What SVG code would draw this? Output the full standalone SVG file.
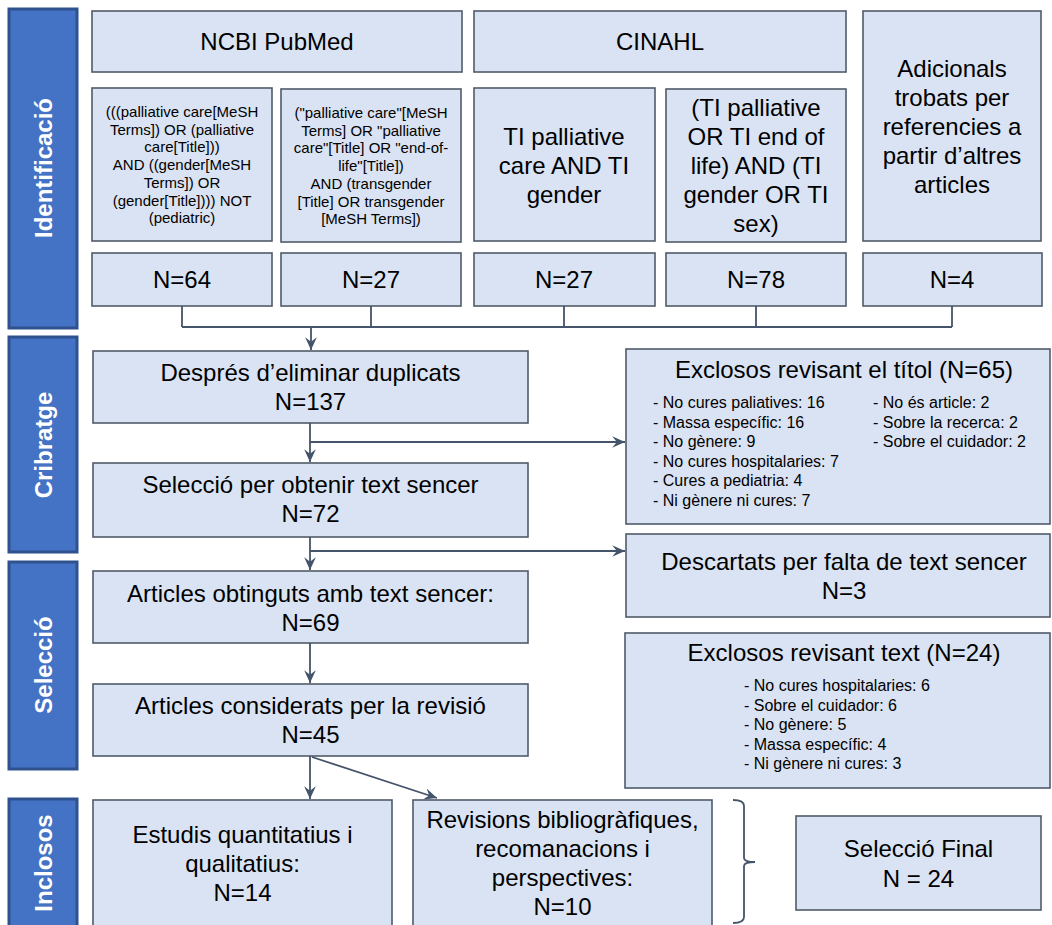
<svg xmlns="http://www.w3.org/2000/svg" width="1052" height="925" viewBox="0 0 1052 925">
<style>
.bar{fill:#4472C4;stroke:#2F528F;stroke-width:3}
.bt{fill:#FFFFFF;font-family:"Liberation Sans",Arial,sans-serif;font-weight:bold;font-size:24px;text-anchor:middle}
.box{fill:#DAE3F3;stroke:#505A69;stroke-width:1.6}
.t{fill:#000;font-family:"Liberation Sans",Arial,sans-serif;font-size:24px;text-anchor:middle}
.q{fill:#000;font-family:"Liberation Sans",Arial,sans-serif;font-size:15px;text-anchor:middle}
.li{fill:#000;font-family:"Liberation Sans",Arial,sans-serif;font-size:16px}
.c{fill:none;stroke:#44546A;stroke-width:1.8}
</style>
<defs>
<marker id="ah" markerUnits="userSpaceOnUse" markerWidth="14" markerHeight="14" viewBox="0 0 12 12" refX="11" refY="6" orient="auto">
<path d="M0,1 L11,6 L0,11 L4,6 Z" fill="#44546A"/>
</marker>
</defs>
<rect width="1052" height="925" fill="#FFFFFF"/>

<g id="stage-identificacio"><rect class="bar" x="9" y="9" width="68" height="319"/><text class="bt" transform="translate(52,168) rotate(-90)">Identificació</text></g>
<g id="stage-cribratge"><rect class="bar" x="9" y="337" width="68" height="215"/><text class="bt" transform="translate(52,445) rotate(-90)">Cribratge</text></g>
<g id="stage-seleccio"><rect class="bar" x="9" y="562" width="68" height="207"/><text class="bt" transform="translate(52,665) rotate(-90)">Selecció</text></g>
<g id="stage-inclosos"><rect class="bar" x="9" y="799" width="68" height="140"/><text class="bt" transform="translate(52,863) rotate(-90)">Inclosos</text></g>

<g id="pubmed"><rect class="box" x="92" y="11" width="370" height="61"/><text class="t" x="277" y="50">NCBI PubMed</text></g>
<g id="cinahl"><rect class="box" x="474" y="11" width="372" height="61"/><text class="t" x="660" y="50">CINAHL</text></g>
<g id="adicionals"><rect class="box" x="863" y="11" width="178" height="230"/>
<text class="t" x="952" y="77">Adicionals</text><text class="t" x="952" y="106">trobats per</text><text class="t" x="952" y="135">referencies a</text><text class="t" x="952" y="164">partir d’altres</text><text class="t" x="952" y="193">articles</text></g>

<g id="query-pubmed-1"><rect class="box" x="92" y="88" width="180" height="153"/>
<text class="q" x="182" y="117">(((palliative care[MeSH</text>
<text class="q" x="182" y="134.7">Terms]) OR (palliative</text>
<text class="q" x="182" y="152.4">care[Title]))</text>
<text class="q" x="182" y="170.1">AND ((gender[MeSH</text>
<text class="q" x="182" y="187.8">Terms]) OR</text>
<text class="q" x="182" y="205.5">(gender[Title]))) NOT</text>
<text class="q" x="182" y="223.2">(pediatric)</text></g>
<g id="query-pubmed-2"><rect class="box" x="281" y="89" width="180" height="153"/>
<text class="q" x="371" y="118">("palliative care"[MeSH</text>
<text class="q" x="371" y="135.7">Terms] OR "palliative</text>
<text class="q" x="371" y="153.4">care"[Title] OR "end-of-</text>
<text class="q" x="371" y="171.1">life"[Title])</text>
<text class="q" x="371" y="188.8">AND (transgender</text>
<text class="q" x="371" y="206.5">[Title] OR transgender</text>
<text class="q" x="371" y="224.2">[MeSH Terms])</text></g>
<g id="query-cinahl-1"><rect class="box" x="474" y="88" width="181" height="153"/>
<text class="t" x="564" y="145">TI palliative</text><text class="t" x="564" y="174">care AND TI</text><text class="t" x="564" y="203">gender</text></g>
<g id="query-cinahl-2"><rect class="box" x="666" y="89" width="180" height="153"/>
<text class="t" x="756" y="116">(TI palliative</text><text class="t" x="756" y="145">OR TI end of</text><text class="t" x="756" y="174">life) AND (TI</text><text class="t" x="756" y="203">gender OR TI</text><text class="t" x="756" y="232">sex)</text></g>

<g id="n-64"><rect class="box" x="92" y="253" width="180" height="53"/><text class="t" x="182" y="288">N=64</text></g>
<g id="n-27a"><rect class="box" x="281" y="253" width="180" height="53"/><text class="t" x="371" y="288">N=27</text></g>
<g id="n-27b"><rect class="box" x="474" y="253" width="181" height="53"/><text class="t" x="564" y="288">N=27</text></g>
<g id="n-78"><rect class="box" x="666" y="253" width="180" height="53"/><text class="t" x="756" y="288">N=78</text></g>
<g id="n-4"><rect class="box" x="863" y="253" width="179" height="53"/><text class="t" x="952" y="288">N=4</text></g>

<g id="duplicats"><rect class="box" x="93" y="351" width="435" height="72"/><text class="t" x="310.5" y="381">Després d’eliminar duplicats</text><text class="t" x="310.5" y="410">N=137</text></g>
<g id="seleccio-text"><rect class="box" x="93" y="463" width="435" height="74"/><text class="t" x="310.5" y="493">Selecció per obtenir text sencer</text><text class="t" x="310.5" y="522">N=72</text></g>
<g id="obtinguts"><rect class="box" x="93" y="571" width="435" height="72"/><text class="t" x="310.5" y="602">Articles obtinguts amb text sencer:</text><text class="t" x="310.5" y="631">N=69</text></g>
<g id="considerats"><rect class="box" x="93" y="684" width="435" height="72"/><text class="t" x="310.5" y="714">Articles considerats per la revisió</text><text class="t" x="310.5" y="743">N=45</text></g>

<g id="exclosos-titol"><rect class="box" x="626" y="349" width="424" height="175"/>
<text class="t" x="844" y="378">Exclosos revisant el títol (N=65)</text>
<text class="li" x="653" y="408">- No cures paliatives: 16</text>
<text class="li" x="653" y="427.5">- Massa específic: 16</text>
<text class="li" x="653" y="447">- No gènere: 9</text>
<text class="li" x="653" y="466.5">- No cures hospitalaries: 7</text>
<text class="li" x="653" y="486">- Cures a pediatria: 4</text>
<text class="li" x="653" y="505.5">- Ni gènere ni cures: 7</text>
<text class="li" x="873" y="408">- No és article: 2</text>
<text class="li" x="873" y="427.5">- Sobre la recerca: 2</text>
<text class="li" x="873" y="447">- Sobre el cuidador: 2</text></g>
<g id="descartats"><rect class="box" x="626" y="534" width="424" height="83"/><text class="t" x="844" y="570">Descartats per falta de text sencer</text><text class="t" x="844" y="599">N=3</text></g>
<g id="exclosos-text"><rect class="box" x="625" y="633" width="425" height="155"/>
<text class="t" x="844" y="661">Exclosos revisant text (N=24)</text>
<text class="li" x="744" y="691">- No cures hospitalaries: 6</text>
<text class="li" x="744" y="710.5">- Sobre el cuidador: 6</text>
<text class="li" x="744" y="730">- No gènere: 5</text>
<text class="li" x="744" y="749.5">- Massa específic: 4</text>
<text class="li" x="744" y="769">- Ni gènere ni cures: 3</text></g>

<g id="estudis"><rect class="box" x="93" y="800" width="299" height="140"/><text class="t" x="242.5" y="843">Estudis quantitatius i</text><text class="t" x="242.5" y="872">qualitatius:</text><text class="t" x="242.5" y="901">N=14</text></g>
<g id="revisions"><rect class="box" x="413" y="800" width="299" height="140"/><text class="t" x="562.5" y="828">Revisions bibliogràfiques,</text><text class="t" x="562.5" y="857">recomanacions i</text><text class="t" x="562.5" y="886">perspectives:</text><text class="t" x="562.5" y="915">N=10</text></g>
<g id="seleccio-final"><rect class="box" x="796" y="816" width="245" height="94"/><text class="t" x="918.5" y="857">Selecció Final</text><text class="t" x="918.5" y="887">N = 24</text></g>

<g id="connectors">
<path class="c" d="M182,306 V327 M371,306 V327 M564,306 V327 M756,306 V327 M952,306 V327 M182,327 H952"/>
<path class="c" d="M311,327 V350" marker-end="url(#ah)"/>
<path class="c" d="M310,423 V462" marker-end="url(#ah)"/>
<path class="c" d="M310,442 H625" marker-end="url(#ah)"/>
<path class="c" d="M310,537 V570" marker-end="url(#ah)"/>
<path class="c" d="M310,551 H625" marker-end="url(#ah)"/>
<path class="c" d="M310,643 V683" marker-end="url(#ah)"/>
<path class="c" d="M310,756 V799" marker-end="url(#ah)"/>
<path class="c" d="M312,757 L437,798" marker-end="url(#ah)"/>
<path class="c" stroke-width="1.4" d="M733,800 Q744,800 744,806 V858 Q744,862 755,862 Q744,862 744,866 V917 Q744,923 733,923"/>
</g>
</svg>
